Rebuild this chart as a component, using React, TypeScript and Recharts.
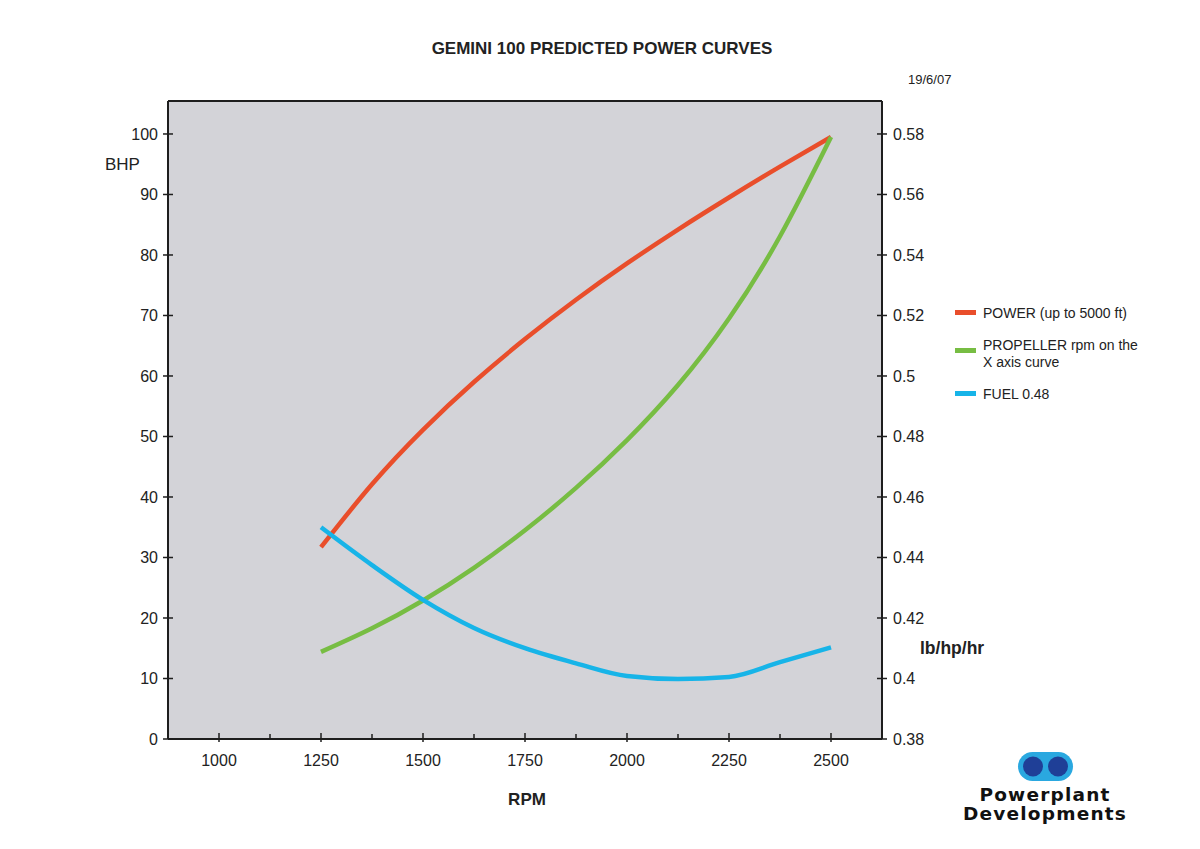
import React from 'react';
import { LineChart, Line, XAxis, YAxis, CartesianGrid, ReferenceLine } from 'recharts';

const rpm = [1250, 1375, 1500, 1625, 1750, 1875, 2000, 2125, 2250, 2375, 2500];
const power = [31.7, 42.1, 51.1, 59.0, 66.1, 72.6, 78.6, 84.2, 89.5, 94.6, 99.5];
const propeller = [14.4, 18.3, 22.9, 28.3, 34.5, 41.5, 49.4, 58.5, 69.5, 83.1, 99.5];
const fuel = [0.45, 0.4375, 0.426, 0.4167, 0.41, 0.405, 0.4008, 0.3998, 0.4005, 0.4054, 0.4103];

const rpmTicks = [1000, 1125, 1250, 1375, 1500, 1625, 1750, 1875, 2000, 2125, 2250, 2375, 2500];
const rpmLabels = [1000, 1250, 1500, 1750, 2000, 2250, 2500];
const bhpTicks = [0, 10, 20, 30, 40, 50, 60, 70, 80, 90, 100];
const fuelTicks = [0.38, 0.4, 0.42, 0.44, 0.46, 0.48, 0.5, 0.52, 0.54, 0.56, 0.58];

const RPM_DOMAIN: [number, number] = [875, 2625];
const BHP_DOMAIN: [number, number] = [0, 105.45];
const FUEL_DOMAIN: [number, number] = [0.38, 0.5909];

const RED = '#e94e2b';
const GREEN = '#77bd43';
const BLUE = '#17b4e8';
const AXIS = '#1e1e1e';
const FONT = '"Liberation Sans", Arial, Helvetica, sans-serif';

const data = rpm.map((r, i) => ({ rpm: r, power: power[i], propeller: propeller[i], fuel: fuel[i] }));

const BottomTick = ({ x, y, payload }: any) => {
  const major = rpmLabels.includes(payload.value);
  return (
    <g>
      <line x1={x} x2={x} y1={y - (major ? 6 : 5)} y2={y + (major ? 3 : 1)} stroke={AXIS} strokeWidth={1.5} />
      {major && (
        <text x={x} y={y + 27} textAnchor="middle" fontSize={16} fill="#222" fontFamily={FONT}>
          {payload.value}
        </text>
      )}
    </g>
  );
};

const LeftTick = ({ x, y, payload }: any) => (
  <g>
    <line x1={x - 5} x2={x + 5} y1={y} y2={y} stroke={AXIS} strokeWidth={1.5} />
    <text x={x - 10} y={y + 6} textAnchor="end" fontSize={16} fill="#222" fontFamily={FONT}>
      {payload.value}
    </text>
  </g>
);

const RightTick = ({ x, y, payload }: any) => (
  <g>
    <line x1={x - 5} x2={x + 5} y1={y} y2={y} stroke={AXIS} strokeWidth={1.5} />
    <text x={x + 11} y={y + 6} textAnchor="start" fontSize={16} fill="#222" fontFamily={FONT}>
      {String(Math.round(payload.value * 100) / 100)}
    </text>
  </g>
);

const legendItems = [
  { color: RED, lines: ['POWER (up to 5000 ft)'], top: 305 },
  { color: GREEN, lines: ['PROPELLER rpm on the', 'X axis curve'], top: 337 },
  { color: BLUE, lines: ['FUEL 0.48'], top: 386 },
];

const abs = (left: number, top: number, extra: React.CSSProperties = {}): React.CSSProperties => ({
  position: 'absolute', left, top, fontFamily: FONT, color: '#222', whiteSpace: 'nowrap', ...extra,
});

export default function App() {
  return (
    <div style={{ position: 'absolute', left: 0, top: 0, width: 1200, height: 849, background: '#fff', overflow: 'hidden' }}>
      <LineChart width={1200} height={849} data={data} margin={{ top: 101, right: 258, left: 108, bottom: 80 }}>
        <CartesianGrid horizontal={false} vertical={false} fill="#d3d3d8" />
        <XAxis
          dataKey="rpm"
          type="number"
          domain={RPM_DOMAIN}
          ticks={rpmTicks}
          allowDataOverflow
          tickSize={0}
          tickMargin={0}
          tickLine={false}
          tick={<BottomTick />}
          height={30}
          axisLine={{ stroke: AXIS, strokeWidth: 2 }}
          interval={0}
        />
        <YAxis
          yAxisId="left"
          type="number"
          domain={BHP_DOMAIN}
          ticks={bhpTicks}
          allowDataOverflow
          tickSize={0}
          tickMargin={0}
          tickLine={false}
          tick={<LeftTick />}
          width={60}
          axisLine={{ stroke: AXIS, strokeWidth: 2 }}
          interval={0}
        />
        <YAxis
          yAxisId="right"
          orientation="right"
          type="number"
          domain={FUEL_DOMAIN}
          ticks={fuelTicks}
          allowDataOverflow
          tickSize={0}
          tickMargin={0}
          tickLine={false}
          tick={<RightTick />}
          width={60}
          axisLine={{ stroke: AXIS, strokeWidth: 2 }}
          interval={0}
        />
        <ReferenceLine yAxisId="left" y={BHP_DOMAIN[1]} stroke={AXIS} strokeWidth={2} />
        <Line yAxisId="left" type="natural" dataKey="power" stroke={RED} strokeWidth={4.5} dot={false} isAnimationActive={false} />
        <Line yAxisId="left" type="natural" dataKey="propeller" stroke={GREEN} strokeWidth={4.5} dot={false} isAnimationActive={false} />
        <Line yAxisId="right" type="monotone" dataKey="fuel" stroke={BLUE} strokeWidth={4.5} dot={false} isAnimationActive={false} />
      </LineChart>

      <div style={abs(0, 39, { width: 1200, textAlign: 'center', fontSize: 17, fontWeight: 700, paddingLeft: 2 })}>
        GEMINI 100 PREDICTED POWER CURVES
      </div>
      <div style={abs(908, 72, { fontSize: 13 })}>19/6/07</div>
      <div style={abs(105, 155, { fontSize: 17 })}>BHP</div>
      <div style={abs(920, 638, { fontSize: 17.5, fontWeight: 700 })}>lb/hp/hr</div>
      <div style={abs(0, 790, { width: 1054, textAlign: 'center', fontSize: 17, fontWeight: 700 })}>RPM</div>

      {legendItems.map((item) => (
        <div key={item.lines[0]} style={abs(955, item.top, { fontSize: 14, lineHeight: '17px' })}>
          <span style={{ position: 'absolute', left: 0, top: item.lines.length > 1 ? 11 : 5, width: 21, height: 5, background: item.color }} />
          <div style={{ marginLeft: 28 }}>
            {item.lines.map((l) => (
              <div key={l}>{l}</div>
            ))}
          </div>
        </div>
      ))}

      <svg style={{ position: 'absolute', left: 1016, top: 751 }} width={60} height={32}>
        <rect x={2} y={1} width={55} height={29} rx={14.5} fill="#2aa8e0" />
        <circle cx={17} cy={15.5} r={10} fill="#1f3f97" />
        <circle cx={42} cy={15.5} r={10} fill="#1f3f97" />
      </svg>
      <div
        style={abs(945, 785, {
          width: 200, textAlign: 'center', fontSize: 18.5, fontWeight: 700, lineHeight: '19px',
          letterSpacing: 1.2, fontFamily: '"DejaVu Sans", Verdana, sans-serif', color: '#111',
        })}
      >
        <div>Powerplant</div>
        <div>Developments</div>
      </div>
    </div>
  );
}
